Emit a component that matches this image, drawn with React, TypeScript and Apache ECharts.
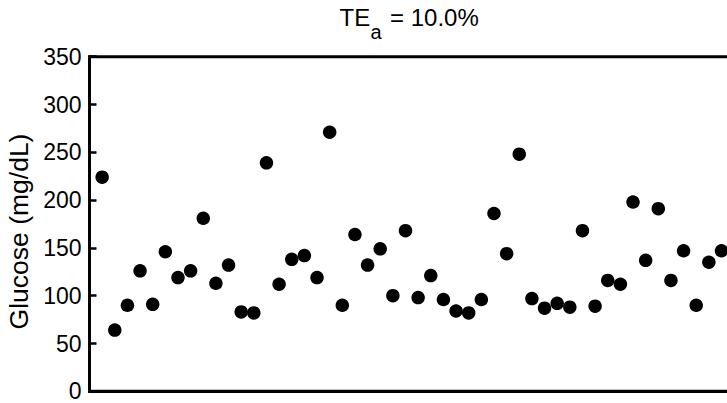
import React, { useEffect, useRef } from "react";
import * as echarts from "echarts";

const sampleIndex: number[] = Array.from({ length: 50 }, (_, i) => i + 1);
const glucose: number[] = [
  224, 64, 90, 126, 91, 146, 119, 126, 181, 113,
  132, 83, 82, 239, 112, 138, 142, 119, 271, 90,
  164, 132, 149, 100, 168, 98, 121, 96, 84, 82,
  96, 186, 144, 248, 97, 87, 92, 88, 168, 89,
  116, 112, 198, 137, 191, 116, 147, 90, 135, 147,
];
const yTicks: number[] = [0, 50, 100, 150, 200, 250, 300, 350];
const titleMain = "TE";
const titleSub = "a";
const titleRest = "= 10.0%";
const yName = "Glucose (mg/dL)";

const FONT = "'Liberation Sans', Arial, sans-serif";

export default function App() {
  const ref = useRef<HTMLDivElement>(null);
  useEffect(() => {
    if (!ref.current) return;
    const chart = echarts.init(ref.current, undefined, { renderer: "svg" });
    const xMax = 51;
    const unit = 12.64;
    chart.setOption({
      animation: false,
      backgroundColor: "#ffffff",
      graphic: [
        {
          type: "text",
          left: 339.5,
          top: 5,
          style: { text: titleMain, font: `normal 24px ${FONT}`, fill: "#000" },
        },
        {
          type: "text",
          left: 370.5,
          top: 22,
          style: { text: titleSub, font: `normal 20px ${FONT}`, fill: "#000" },
        },
        {
          type: "text",
          left: 390,
          top: 5,
          style: { text: titleRest, font: `normal 24px ${FONT}`, fill: "#000" },
        },
      ],
      grid: {
        left: 89.5,
        top: 56.7,
        width: xMax * unit,
        height: 334.6,
        show: true,
        borderColor: "#000",
        borderWidth: 3,
        backgroundColor: "transparent",
        containLabel: false,
        outerBoundsMode: "none",
      },
      xAxis: {
        type: "value",
        min: 0,
        max: xMax,
        axisLine: { show: true, lineStyle: { color: "#000", width: 3 } },
        axisTick: { show: false },
        axisLabel: { show: false },
        splitLine: { show: false },
      },
      yAxis: {
        type: "value",
        min: yTicks[0],
        max: yTicks[yTicks.length - 1],
        interval: yTicks[1] - yTicks[0],
        name: yName,
        nameLocation: "middle",
        nameGap: 56,
        nameTextStyle: {
          fontFamily: FONT,
          fontSize: 26.5,
          color: "#000",
          padding: [0, 15, 0, 0],
        },
        axisLine: { show: true, lineStyle: { color: "#000", width: 3 } },
        axisTick: { show: true, inside: true, length: 7, lineStyle: { color: "#000", width: 2.5 } },
        axisLabel: { fontFamily: FONT, fontSize: 23, color: "#000", margin: 8 },
        splitLine: { show: false },
      },
      series: [
        {
          type: "scatter",
          data: sampleIndex.map((x, i) => [x, glucose[i]]),
          symbol: "circle",
          symbolSize: 13.5,
          itemStyle: { color: "#000", opacity: 1 },
        },
      ],
    });
    return () => chart.dispose();
  }, []);
  return (
    <div
      ref={ref}
      style={{ position: "absolute", left: 0, top: 0, width: 727, height: 403, background: "#fff" }}
    />
  );
}
